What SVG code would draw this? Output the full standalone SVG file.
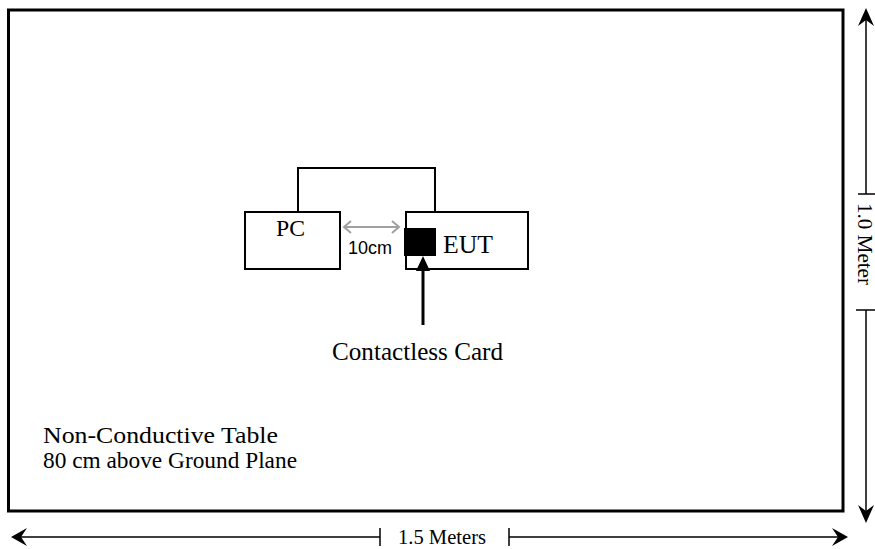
<svg xmlns="http://www.w3.org/2000/svg" width="875" height="549" viewBox="0 0 875 549">
<style>
.serif{font-family:"Liberation Serif","Times New Roman",serif;fill:#000}
.sans{font-family:"Liberation Sans",Arial,sans-serif;fill:#000}
.box{fill:#fff;stroke:#000;stroke-width:2}
.ln{fill:none;stroke:#000;stroke-width:1.5}
.head{fill:#000;stroke:none}
</style>
<rect width="875" height="549" fill="#fff"/>
<g id="table">
<rect x="8.5" y="10" width="834.5" height="501" fill="none" stroke="#000" stroke-width="3"/>
<text class="serif" x="43" y="443" font-size="24" textLength="235" lengthAdjust="spacingAndGlyphs">Non-Conductive Table</text>
<text class="serif" x="43" y="468" font-size="24" textLength="254" lengthAdjust="spacingAndGlyphs">80 cm above Ground Plane</text>
</g>
<g id="pc">
<rect class="box" x="245" y="212" width="95" height="57"/>
<text class="serif" x="276" y="236" font-size="23" textLength="29" lengthAdjust="spacingAndGlyphs">PC</text>
</g>
<g id="eut">
<rect class="box" x="406" y="212" width="122" height="57"/>
<rect x="404" y="228" width="32" height="28" fill="#000"/>
<text class="serif" x="443" y="253" font-size="25" textLength="50" lengthAdjust="spacingAndGlyphs">EUT</text>
</g>
<g id="card">
<text class="serif" x="332" y="360" font-size="25" textLength="171" lengthAdjust="spacingAndGlyphs">Contactless Card</text>
</g>
<g id="connectors">
<path d="M298 211 V168 H435 V211" fill="none" stroke="#000" stroke-width="2"/>
<line x1="423" y1="325" x2="423" y2="266" stroke="#000" stroke-width="3"/>
<path class="head" d="M423 256 L430 271 L416 271 Z"/>
<g stroke="#a0a0a0" stroke-width="2" fill="none">
<line x1="344" y1="227" x2="399" y2="227"/>
<path d="M351 221 L344 227 L351 233"/>
<path d="M392 221 L399 227 L392 233"/>
</g>
<text class="sans" x="348" y="254" font-size="18" textLength="44" lengthAdjust="spacingAndGlyphs">10cm</text>
</g>
<g id="dim-width">
<line class="ln" x1="16" y1="537" x2="380" y2="537"/>
<line class="ln" x1="509" y1="537" x2="846" y2="537"/>
<line class="ln" x1="380" y1="528" x2="380" y2="546"/>
<line class="ln" x1="509" y1="528" x2="509" y2="546"/>
<path class="head" d="M11 537 L27 528 L21 537 L27 546 Z"/>
<path class="head" d="M848 537 L832 528 L838 537 L832 546 Z"/>
<text class="serif" x="398" y="544" font-size="20" textLength="88" lengthAdjust="spacingAndGlyphs">1.5 Meters</text>
</g>
<g id="dim-height">
<line class="ln" x1="866" y1="12" x2="866" y2="194"/>
<line class="ln" x1="866" y1="310" x2="866" y2="519"/>
<line class="ln" x1="858" y1="194" x2="875" y2="194"/>
<line class="ln" x1="856" y1="310" x2="875" y2="310"/>
<path class="head" d="M866 8 L874 26 L866 20 L858 26 Z"/>
<path class="head" d="M866 523 L874 505 L866 511 L858 505 Z"/>
<text class="serif" transform="translate(858,203) rotate(90)" x="0" y="0" font-size="20" textLength="82" lengthAdjust="spacingAndGlyphs">1.0 Meter</text>
</g>
</svg>
